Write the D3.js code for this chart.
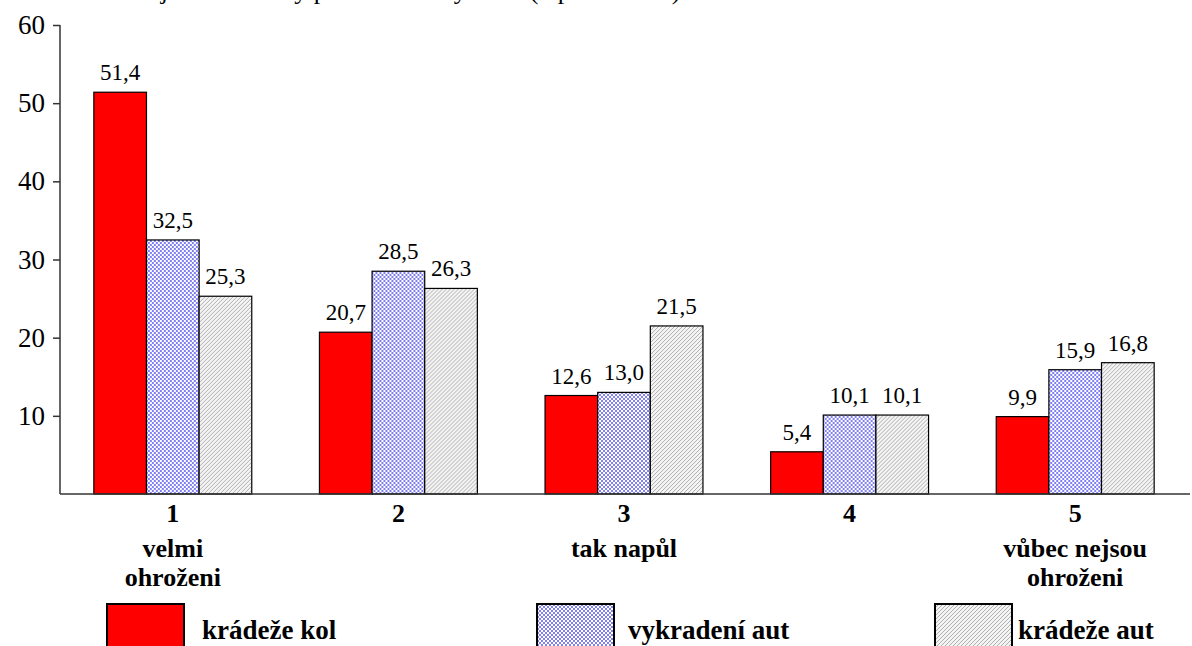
<!DOCTYPE html>
<html>
<head>
    <meta charset="utf-8">
    <script src="https://d3js.org/d3.v7.min.js"></script>
    <style>
        body { margin: 0; }
        svg { display: block; }
        text, tspan { font-family: "Liberation Serif", "Times New Roman", serif !important; }
    </style>
</head>
<body>
<svg id="t" width="1192" height="646"></svg>
<script>
    // data
    var categories = ["1", "2", "3", "4", "5"];
    var categoryNotes = [["velmi", "ohroženi"], [], ["tak napůl"], [], ["vůbec nejsou", "ohroženi"]];
    var seriesNames = ["krádeže kol", "vykradení aut", "krádeže aut"];
    var kradezeKol = [51.4, 20.7, 12.6, 5.4, 9.9];
    var vykradeniAut = [32.5, 28.5, 13.0, 10.1, 15.9];
    var kradezeAut = [25.3, 26.3, 21.5, 10.1, 16.8];
    var yTicks = [10, 20, 30, 40, 50, 60];

    var series = [kradezeKol, vykradeniAut, kradezeAut];
    var fills = ["#ff0000", "url(#checks)", "url(#hatch)"];
    var fam = "Liberation Serif";

    var svg = d3.select("#t");

    // patterns
    var defs = svg.append("defs");
    var checks = defs.append("pattern")
        .attr("id", "checks")
        .attr("patternUnits", "userSpaceOnUse")
        .attr("width", 4).attr("height", 4);
    checks.append("rect").attr("width", 4).attr("height", 4).attr("fill", "#ffffff");
    checks.append("rect").attr("width", 2).attr("height", 2).attr("fill", "#8080f2");
    checks.append("rect").attr("x", 2).attr("y", 2).attr("width", 2).attr("height", 2).attr("fill", "#8080f2");

    var hatch = defs.append("pattern")
        .attr("id", "hatch")
        .attr("patternUnits", "userSpaceOnUse")
        .attr("width", 4).attr("height", 4);
    hatch.append("rect").attr("width", 4).attr("height", 4).attr("fill", "#f4f4f4");
    hatch.append("path").attr("d", "M-1,1 l2,-2 M0,4 l4,-4 M3,5 l2,-2")
        .attr("stroke", "#a8a8a8").attr("stroke-width", 0.9);

    // scales
    var x0 = d3.scaleBand().domain(categories).range([60, 1188])
        .paddingInner(0.3).paddingOuter(0.15);
    var x1 = d3.scaleBand().domain(d3.range(series.length)).range([0, x0.bandwidth()]);
    var y = d3.scaleLinear().domain([0, 60]).range([494, 25]);

    // title, cut off at the top in the reference
    svg.append("text")
        .attr("x", 400).attr("y", -1)
        .attr("text-anchor", "middle")
        .attr("font-family", fam).style("font-family", fam).style("font-size", "26px")
        .text("Jak jsou ohroženy podle místa bydliště (v procentech)");

    // bars
    var groups = svg.append("g").selectAll("g")
        .data(categories)
        .enter().append("g")
        .attr("transform", function(d) { return "translate(" + x0(d) + ",0)"; });

    groups.selectAll("rect")
        .data(function(d, i) { return series.map(function(s, j) { return { s: j, v: s[i] }; }); })
        .enter().append("rect")
        .attr("x", function(d) { return x1(d.s); })
        .attr("width", x1.bandwidth())
        .attr("y", function(d) { return y(d.v); })
        .attr("height", function(d) { return y(0) - y(d.v); })
        .attr("fill", function(d) { return fills[d.s]; })
        .attr("stroke", "#000")
        .attr("stroke-width", 1.2);

    groups.selectAll("text.val")
        .data(function(d, i) { return series.map(function(s, j) { return { s: j, v: s[i] }; }); })
        .enter().append("text")
        .attr("class", "val")
        .attr("x", function(d) { return x1(d.s) + x1.bandwidth() / 2; })
        .attr("y", function(d) { return y(d.v) - 12; })
        .attr("text-anchor", "middle")
        .attr("font-family", fam).style("font-family", fam).style("font-size", "23px")
        .text(function(d) { return d3.format(".1f")(d.v).replace(".", ","); });

    // y axis
    var yAxis = svg.append("g")
        .attr("transform", "translate(60,0)")
        .call(d3.axisLeft(y).tickValues(yTicks).tickSize(7).tickPadding(8).tickSizeOuter(0))
        .attr("font-family", fam);
    yAxis.select(".domain").attr("stroke", "#333").attr("stroke-width", 1.5)
        .attr("d", "M0," + y(0) + "V" + y(60));
    yAxis.selectAll(".tick line").attr("stroke", "#333").attr("stroke-width", 1.5);
    yAxis.selectAll("text").style("font-family", fam).style("font-size", "27px").attr("fill", "#000");

    // x axis line
    svg.append("line")
        .attr("x1", 60).attr("x2", 1190)
        .attr("y1", y(0)).attr("y2", y(0))
        .attr("stroke", "#333").attr("stroke-width", 1.5);

    // category labels
    var catLabels = svg.append("g").selectAll("text")
        .data(categories)
        .enter().append("text")
        .attr("text-anchor", "middle")
        .attr("font-family", fam).style("font-family", fam)
        .style("font-size", "26px").style("font-weight", "bold");
    catLabels.each(function(d, i) {
        var t = d3.select(this);
        var cx = x0(d) + x0.bandwidth() / 2;
        t.append("tspan").attr("x", cx).attr("y", 522).text(d);
        categoryNotes[i].forEach(function(line, k) {
            t.append("tspan").attr("x", cx).attr("y", 557 + k * 29).text(line);
        });
    });

    // legend
    var legendX = [107, 537, 935];
    var legend = svg.append("g").selectAll("g")
        .data(seriesNames)
        .enter().append("g")
        .attr("transform", function(d, i) { return "translate(" + legendX[i] + ",604)"; });
    legend.append("rect")
        .attr("width", 77).attr("height", 44)
        .attr("fill", function(d, i) { return fills[i]; })
        .attr("stroke", "#000").attr("stroke-width", 2);
    legend.append("text")
        .attr("x", function(d, i) { return i === 0 ? 95 : (i === 1 ? 91 : 83); })
        .attr("y", 35)
        .attr("font-family", fam).style("font-family", fam)
        .style("font-size", "27px").style("font-weight", "bold")
        .text(function(d) { return d; });
</script>
</body>
</html>
